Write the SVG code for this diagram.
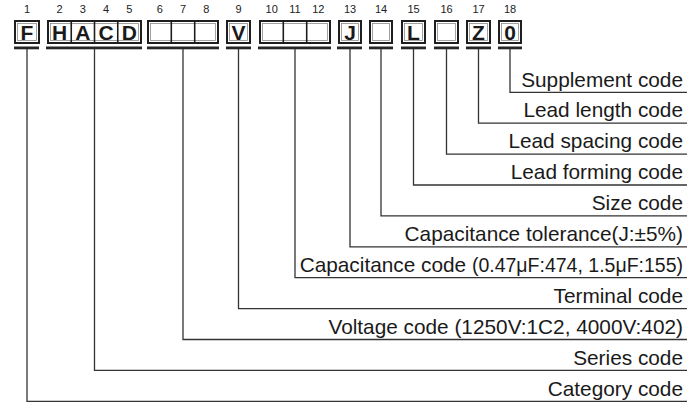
<svg xmlns="http://www.w3.org/2000/svg" width="697" height="403" viewBox="0 0 697 403">
<style>
.box{fill:#fff;stroke:#1e1e1e;stroke-width:2}
.inner{fill:none;stroke:#8a8a8a;stroke-width:0.8}
.div{stroke:#1e1e1e;stroke-width:1.6}
.bar{fill:#262626}
.let{font-family:"Liberation Sans",Arial,sans-serif;font-weight:bold;font-size:21px;fill:#1a1a1a;text-anchor:middle}
.num{font-family:"Liberation Sans",Arial,sans-serif;font-size:11px;fill:#222;text-anchor:middle}
.lab{font-family:"Liberation Sans",Arial,sans-serif;font-size:20.8px;fill:#1a1a1a;text-anchor:end}
.con{fill:none;stroke:#333;stroke-width:1.3}
</style>
<rect width="697" height="403" fill="#fff"/>
<g id="n1">
<rect class="box" x="15" y="21" width="24" height="22"/><rect class="inner" x="17.5" y="23.5" width="19" height="17"/>
<rect class="bar" x="14" y="46.5" width="25" height="2.8"/>
<text class="num" x="27" y="13">1</text><text class="let" x="27" y="40">F</text>
</g>
<g id="n2-5">
<rect class="box" x="48" y="21" width="93" height="22"/><rect class="inner" x="50.5" y="23.5" width="88" height="17"/>
<line class="div" x1="71.25" y1="21" x2="71.25" y2="43"/><line class="div" x1="94.5" y1="21" x2="94.5" y2="43"/><line class="div" x1="117.75" y1="21" x2="117.75" y2="43"/>
<rect class="bar" x="46" y="46.5" width="96" height="2.8"/>
<text class="num" x="59.6" y="13">2</text><text class="num" x="82.9" y="13">3</text><text class="num" x="106.1" y="13">4</text><text class="num" x="129.4" y="13">5</text>
<text class="let" x="59.6" y="40">H</text><text class="let" x="82.9" y="40">A</text><text class="let" x="106.1" y="40">C</text><text class="let" x="129.4" y="40">D</text>
</g>
<g id="n6-8">
<rect class="box" x="148" y="21" width="70" height="22"/><rect class="inner" x="150.5" y="23.5" width="65" height="17"/>
<line class="div" x1="171.3" y1="21" x2="171.3" y2="43"/><line class="div" x1="194.7" y1="21" x2="194.7" y2="43"/>
<rect class="bar" x="147" y="46.5" width="72" height="2.8"/>
<text class="num" x="159.7" y="13">6</text><text class="num" x="183" y="13">7</text><text class="num" x="206.3" y="13">8</text>
</g>
<g id="n9">
<rect class="box" x="227" y="21" width="23" height="22"/><rect class="inner" x="229.5" y="23.5" width="18" height="17"/>
<rect class="bar" x="226" y="46.5" width="25" height="2.8"/>
<text class="num" x="238.5" y="13">9</text><text class="let" x="238.5" y="40">V</text>
</g>
<g id="n10-12">
<rect class="box" x="260" y="21" width="70" height="22"/><rect class="inner" x="262.5" y="23.5" width="65" height="17"/>
<line class="div" x1="283.3" y1="21" x2="283.3" y2="43"/><line class="div" x1="306.7" y1="21" x2="306.7" y2="43"/>
<rect class="bar" x="258" y="46.5" width="73" height="2.8"/>
<text class="num" x="271.7" y="13">10</text><text class="num" x="295" y="13">11</text><text class="num" x="318.3" y="13">12</text>
</g>
<g id="n13">
<rect class="box" x="339" y="21" width="22" height="22"/><rect class="inner" x="341.5" y="23.5" width="17" height="17"/>
<rect class="bar" x="337" y="46.5" width="25" height="2.8"/>
<text class="num" x="350" y="13">13</text><text class="let" x="350" y="40">J</text>
</g>
<g id="n14">
<rect class="box" x="370" y="21" width="22" height="22"/><rect class="inner" x="372.5" y="23.5" width="17" height="17"/>
<rect class="bar" x="369" y="46.5" width="24" height="2.8"/>
<text class="num" x="381" y="13">14</text>
</g>
<g id="n15">
<rect class="box" x="402" y="21" width="23" height="22"/><rect class="inner" x="404.5" y="23.5" width="18" height="17"/>
<rect class="bar" x="401" y="46.5" width="25" height="2.8"/>
<text class="num" x="413.5" y="13">15</text><text class="let" x="413.5" y="40">L</text>
</g>
<g id="n16">
<rect class="box" x="435" y="21" width="23" height="22"/><rect class="inner" x="437.5" y="23.5" width="18" height="17"/>
<rect class="bar" x="434" y="46.5" width="25" height="2.8"/>
<text class="num" x="446.5" y="13">16</text>
</g>
<g id="n17">
<rect class="box" x="467" y="21" width="23" height="22"/><rect class="inner" x="469.5" y="23.5" width="18" height="17"/>
<rect class="bar" x="466" y="46.5" width="25" height="2.8"/>
<text class="num" x="478.5" y="13">17</text><text class="let" x="478.5" y="40">Z</text>
</g>
<g id="n18">
<rect class="box" x="499" y="21" width="22" height="22"/><rect class="inner" x="501.5" y="23.5" width="17" height="17"/>
<rect class="bar" x="498" y="46.5" width="24" height="2.8"/>
<text class="num" x="510" y="13">18</text><text class="let" x="510" y="40">0</text>
</g>
<g id="connectors">
<polyline class="con" points="510,49 510,92.3 687,92.3"/>
<polyline class="con" points="478.5,49 478.5,123.2 687,123.2"/>
<polyline class="con" points="446.5,49 446.5,154.1 687,154.1"/>
<polyline class="con" points="413.5,49 413.5,185 687,185"/>
<polyline class="con" points="381,49 381,215.9 687,215.9"/>
<polyline class="con" points="350,49 350,246.8 687,246.8"/>
<polyline class="con" points="295,49 295,277.7 687,277.7"/>
<polyline class="con" points="238.5,49 238.5,308.6 687,308.6"/>
<polyline class="con" points="183,49 183,339.5 687,339.5"/>
<polyline class="con" points="94.5,49 94.5,370.4 687,370.4"/>
<polyline class="con" points="27,49 27,401.3 687,401.3"/>
</g>
<g id="labels">
<text class="lab" x="683" y="86.5">Supplement code</text>
<text class="lab" x="683" y="117.4">Lead length code</text>
<text class="lab" x="683" y="148.3">Lead spacing code</text>
<text class="lab" x="683" y="179.2">Lead forming code</text>
<text class="lab" x="683" y="210.1">Size code</text>
<text class="lab" x="683" y="241">Capacitance tolerance(J:±5%)</text>
<text class="lab" x="683" y="271.9">Capacitance code <tspan font-size="19.5">(0.47μF:474, 1.5μF:155)</tspan></text>
<text class="lab" x="683" y="302.8">Terminal code</text>
<text class="lab" x="683" y="333.7">Voltage code (1250V:1C2, 4000V:402)</text>
<text class="lab" x="683" y="364.6">Series code</text>
<text class="lab" x="683" y="395.5">Category code</text>
</g>
</svg>
